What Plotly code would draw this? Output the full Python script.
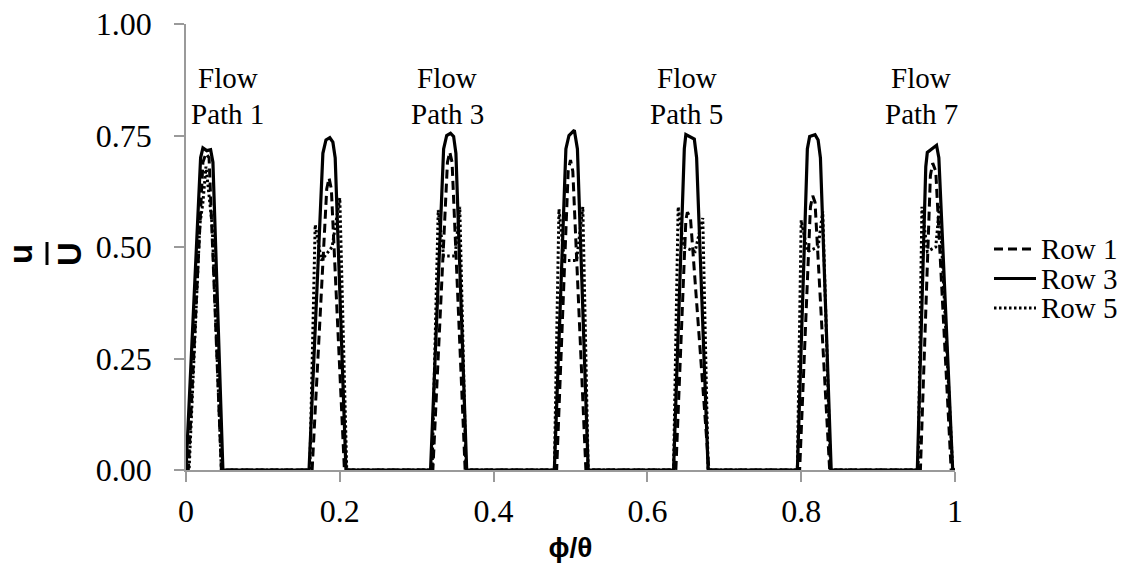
import plotly.graph_objects as go

# Normalised velocity u/U across the passage angle phi/theta, three tube rows
row1_x = [0.000, 0.003, 0.022, 0.026, 0.030, 0.046,
          0.164, 0.183, 0.186, 0.189, 0.206,
          0.321, 0.340, 0.343, 0.346, 0.363,
          0.482, 0.497, 0.500, 0.503, 0.520,
          0.637, 0.650, 0.652, 0.656, 0.680,
          0.798, 0.812, 0.815, 0.818, 0.837,
          0.955, 0.968, 0.971, 0.975, 0.995, 1.000]
row1_y = [0.000, 0.000, 0.690, 0.710, 0.700, 0.000,
          0.000, 0.630, 0.655, 0.630, 0.000,
          0.000, 0.690, 0.713, 0.690, 0.000,
          0.000, 0.670, 0.695, 0.670, 0.000,
          0.000, 0.560, 0.578, 0.565, 0.000,
          0.000, 0.590, 0.615, 0.600, 0.000,
          0.000, 0.660, 0.688, 0.670, 0.000, 0.000]

row3_x = [0.000, 0.019, 0.022, 0.027, 0.032, 0.035, 0.048,
          0.160, 0.178, 0.182, 0.187, 0.191, 0.194, 0.208,
          0.318, 0.335, 0.339, 0.344, 0.348, 0.351, 0.365,
          0.479, 0.494, 0.498, 0.505, 0.509, 0.523,
          0.634, 0.648, 0.650, 0.661, 0.664, 0.679,
          0.795, 0.808, 0.811, 0.818, 0.822, 0.825, 0.839,
          0.951, 0.962, 0.964, 0.976, 0.979, 0.997, 1.000]
row3_y = [0.000, 0.700, 0.722, 0.716, 0.718, 0.690, 0.000,
          0.000, 0.710, 0.740, 0.745, 0.735, 0.700, 0.000,
          0.000, 0.720, 0.750, 0.755, 0.748, 0.710, 0.000,
          0.000, 0.720, 0.750, 0.762, 0.720, 0.000,
          0.000, 0.720, 0.752, 0.742, 0.700, 0.000,
          0.000, 0.720, 0.748, 0.752, 0.740, 0.700, 0.000,
          0.000, 0.680, 0.712, 0.728, 0.700, 0.000, 0.000]

row5_x = [0.000, 0.004, 0.018, 0.022, 0.026, 0.030, 0.034, 0.046,
          0.161, 0.168, 0.176, 0.190, 0.200, 0.209,
          0.320, 0.328, 0.335, 0.350, 0.356, 0.364,
          0.479, 0.485, 0.492, 0.508, 0.516, 0.523,
          0.634, 0.640, 0.647, 0.662, 0.672, 0.679,
          0.795, 0.800, 0.808, 0.822, 0.828, 0.838,
          0.952, 0.957, 0.964, 0.975, 0.980, 0.997, 1.000]
row5_y = [0.000, 0.000, 0.550, 0.600, 0.680, 0.620, 0.550, 0.000,
          0.000, 0.550, 0.470, 0.500, 0.610, 0.000,
          0.000, 0.583, 0.480, 0.480, 0.590, 0.000,
          0.000, 0.585, 0.470, 0.470, 0.590, 0.000,
          0.000, 0.590, 0.500, 0.490, 0.565, 0.000,
          0.000, 0.560, 0.490, 0.500, 0.580, 0.000,
          0.000, 0.590, 0.490, 0.500, 0.595, 0.000, 0.000]

x_ticks = [0, 0.2, 0.4, 0.6, 0.8, 1.0]
x_tick_text = ["0", "0.2", "0.4", "0.6", "0.8", "1"]
y_ticks = [0, 0.25, 0.5, 0.75, 1.0]
y_tick_text = ["0.00", "0.25", "0.50", "0.75", "1.00"]

path_labels = ["Path 1", "Path 3", "Path 5", "Path 7"]
path_label_x = [0.054, 0.340, 0.651, 0.956]

series_names = ["Row 1", "Row 3", "Row 5"]

SERIF = "Liberation Serif, Times New Roman, serif"
SANS = "Liberation Sans, Arial, sans-serif"

# plot-area geometry in pixels, used to place items in the margins
PLOT_L, PLOT_R, PLOT_T, PLOT_B = 186, 955, 24, 470


def px_x(px):
    return (px - PLOT_L) / (PLOT_R - PLOT_L)


def px_y(py):
    return (PLOT_B - py) / (PLOT_B - PLOT_T)


line_styles = [
    dict(color="black", width=3, dash="9px,5px"),
    dict(color="black", width=3.2),
    dict(color="black", width=3, dash="2.5px,2.5px"),
]

fig = go.Figure()
for name, xs, ys, style in zip(series_names, [row1_x, row3_x, row5_x],
                               [row1_y, row3_y, row5_y], line_styles):
    fig.add_trace(go.Scatter(x=xs, y=ys, mode="lines", name=name, line=style,
                             showlegend=False))

# Flow path labels above alternate peaks
for label, xv in zip(path_labels, path_label_x):
    for text, py in (("Flow", 78), (label, 114)):
        fig.add_annotation(x=xv, y=px_y(py), xref="x", yref="paper", text=text,
                           showarrow=False, font=dict(family=SERIF, size=29, color="black"),
                           xanchor="center", yanchor="middle")

# Compact key on the right: sample line plus series name
for name, style, py in zip(series_names, line_styles, [249, 278.5, 308]):
    fig.add_shape(type="line", xref="paper", yref="paper",
                  x0=px_x(994), x1=px_x(1036), y0=px_y(py), y1=px_y(py), line=style)
    fig.add_annotation(x=px_x(1039), y=px_y(py), xref="paper", yref="paper", text=name,
                       showarrow=False, font=dict(family=SERIF, size=29, color="black"),
                       xanchor="left", yanchor="middle", height=28, valign="middle")

# y-axis title drawn as a rotated fraction u / U
ytitle_font = dict(family=SANS, size=33, color="black")
fig.add_annotation(x=px_x(21), y=px_y(254), xref="paper", yref="paper",
                   text="<b>u</b>", textangle=-90, showarrow=False, font=ytitle_font,
                   xanchor="center", yanchor="middle")
fig.add_annotation(x=px_x(70), y=px_y(254), xref="paper", yref="paper",
                   text="<b>U</b>", textangle=-90, showarrow=False, font=ytitle_font,
                   xanchor="center", yanchor="middle")
fig.add_shape(type="line", xref="paper", yref="paper",
              x0=px_x(47), x1=px_x(47), y0=px_y(242), y1=px_y(265),
              line=dict(color="black", width=3))

fig.update_layout(
    width=1126, height=563,
    margin=dict(l=PLOT_L, r=1126 - PLOT_R, t=PLOT_T, b=563 - PLOT_B),
    paper_bgcolor="white", plot_bgcolor="white",
    showlegend=False,
    xaxis=dict(range=[0, 1], tickvals=x_ticks, ticktext=x_tick_text,
               showgrid=False, zeroline=False, showline=True, linecolor="#9a9a9a", linewidth=1.5,
               ticks="outside", ticklen=10, tickcolor="#9a9a9a", tickwidth=1.5,
               ticklabelstandoff=2, automargin=False,
               tickfont=dict(family=SERIF, size=32, color="black"),
               title=dict(text="<b>ϕ/θ</b>", font=dict(family=SANS, size=28, color="black"),
                          standoff=12)),
    yaxis=dict(range=[0, 1], tickvals=y_ticks, ticktext=y_tick_text,
               showgrid=False, zeroline=False, showline=True, linecolor="#9a9a9a", linewidth=1.5,
               ticks="outside", ticklen=10, tickcolor="#9a9a9a", tickwidth=1.5,
               ticklabelstandoff=16, automargin=False,
               tickfont=dict(family=SERIF, size=32, color="black")),
)

fig.write_html("out.html")
